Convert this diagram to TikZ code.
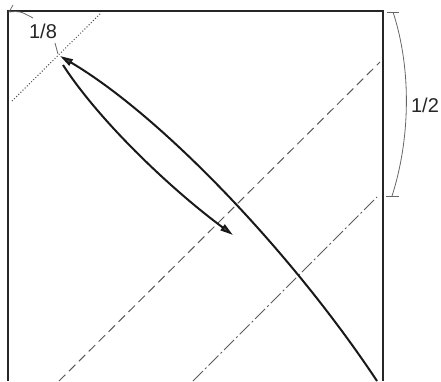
\documentclass[tikz,border=0pt]{standalone}
\usepackage{fontspec}
\setmainfont{Liberation Sans}
\usetikzlibrary{arrows.meta}
\tikzset{
  edge/.style={line width=1.4pt, draw=black!85},
  fold/.style={line width=1pt, draw=black!65, dash pattern=on 9pt off 5pt},
  valley/.style={line width=1pt, draw=black!65, dash pattern=on 14pt off 3pt on 2pt off 3pt},
  dotfold/.style={line width=1pt, draw=black!70, dash pattern=on 1pt off 2pt},
  move/.style={line width=2pt, draw=black!90},
  tip/.style={-{Triangle[length=13pt,width=7pt,fill=black!70]}},
  dim/.style={line width=0.8pt, draw=black!60},
  lab/.style={font=\fontsize{20}{24}\selectfont, text=black!85, inner sep=0pt}
}
\begin{document}
\begin{tikzpicture}[x=1pt,y=-1pt]
\useasboundingbox (0,0) rectangle (441,381);
% square (bottom cut off)
\coordinate (bl) at (8,381);
\coordinate (tl) at (8,11);
\coordinate (tr) at (383,11);
\coordinate (br) at (383,381);
\draw[edge] (bl) -- (tl) -- (tr) -- (br);
% fold lines
\coordinate (d1) at (12,101);
\coordinate (d2) at (101,13);
\draw[dotfold] (d1) -- (d2);
\coordinate (f1) at (59,381);
\coordinate (f2) at (380,62);
\draw[fold] (f1) -- (f2);
\coordinate (v1) at (193,381);
\coordinate (v2) at (377,197);
\draw[valley] (v1) -- (v2);
% movement arrows
\coordinate (a0) at (377,381);
\coordinate (a1) at (60,56);
\draw[move,tip] (a0) .. controls (290,250) and (160,115) .. (a1);
\coordinate (b0) at (63,65);
\coordinate (b1) at (233,235);
\draw[move,tip] (b0) .. controls (100,122) and (172,190) .. (b1);
% 1/8 label
\node[lab] (l8) at (43,31) {1/8};
\coordinate (c8a) at (13,5);
\coordinate (c8b) at (9,12);
\coordinate (c8c) at (33,18);
\draw[dim] (c8a) -- (c8b) .. controls (20,11) .. (c8c);
\coordinate (t8a) at (55,43);
\coordinate (t8b) at (58,54);
\draw[dim] (t8a) -- (t8b);
% 1/2 bracket
\coordinate (h1) at (393,12);
\coordinate (h2) at (392,196);
\draw[dim] (387,12) -- (399,12);
\draw[dim] (386,196) -- (399,196);
\draw[dim] (h1) .. controls (412,70) and (410,140) .. (h2);
\node[lab] (l2) at (425,105) {1/2};
\end{tikzpicture}
\end{document}
